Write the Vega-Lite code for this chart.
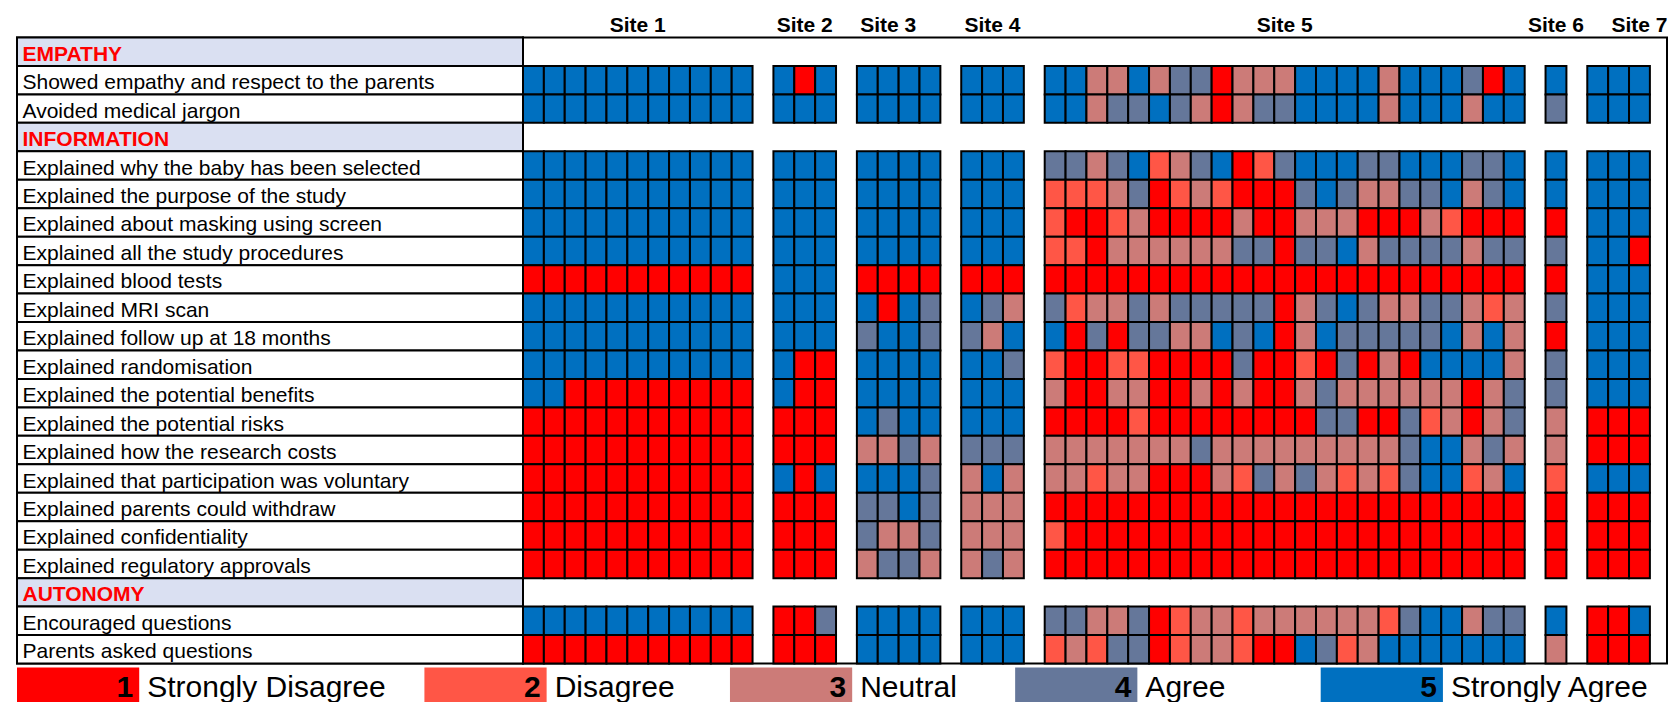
{
"$schema": "https://vega.github.io/schema/vega-lite/v6.json",
"autosize": {"type": "pad"},
"padding": {"left": 15, "top": 13.5, "right": 0, "bottom": 0},
"background": "white",
"bounds": "full",
"spacing": 2,
"config": {"font": "Liberation Sans", "view": {"stroke": "black", "strokeWidth": 2}},
"datasets": {
"items": [
{"item":"H1","label":"EMPATHY","kind":"section"},
{"item":"E1","label":"Showed empathy and respect to the parents","kind":"question"},
{"item":"E2","label":"Avoided medical jargon","kind":"question"},
{"item":"H2","label":"INFORMATION","kind":"section"},
{"item":"I1","label":"Explained why the baby has been selected","kind":"question"},
{"item":"I2","label":"Explained the purpose of the study","kind":"question"},
{"item":"I3","label":"Explained about masking using screen","kind":"question"},
{"item":"I4","label":"Explained all the study procedures","kind":"question"},
{"item":"I5","label":"Explained blood tests","kind":"question"},
{"item":"I6","label":"Explained MRI scan","kind":"question"},
{"item":"I7","label":"Explained follow up at 18 months","kind":"question"},
{"item":"I8","label":"Explained randomisation","kind":"question"},
{"item":"I9","label":"Explained the potential benefits","kind":"question"},
{"item":"I10","label":"Explained the potential risks","kind":"question"},
{"item":"I11","label":"Explained how the research costs","kind":"question"},
{"item":"I12","label":"Explained that participation was voluntary","kind":"question"},
{"item":"I13","label":"Explained parents could withdraw","kind":"question"},
{"item":"I14","label":"Explained confidentiality","kind":"question"},
{"item":"I15","label":"Explained regulatory approvals","kind":"question"},
{"item":"H3","label":"AUTONOMY","kind":"section"},
{"item":"A1","label":"Encouraged questions","kind":"question"},
{"item":"A2","label":"Parents asked questions","kind":"question"}
],
"legend": [
{"code":1,"label":"Strongly Disagree"},
{"code":2,"label":"Disagree"},
{"code":3,"label":"Neutral"},
{"code":4,"label":"Agree"},
{"code":5,"label":"Strongly Agree"}
],
"cells": [
{"col":"1-01","item":"E1","score":5},{"col":"1-02","item":"E1","score":5},{"col":"1-03","item":"E1","score":5},{"col":"1-04","item":"E1","score":5},{"col":"1-05","item":"E1","score":5},{"col":"1-06","item":"E1","score":5},{"col":"1-07","item":"E1","score":5},{"col":"1-08","item":"E1","score":5},{"col":"1-09","item":"E1","score":5},{"col":"1-10","item":"E1","score":5},{"col":"1-11","item":"E1","score":5},
{"col":"2-01","item":"E1","score":5},{"col":"2-02","item":"E1","score":1},{"col":"2-03","item":"E1","score":5},
{"col":"3-01","item":"E1","score":5},{"col":"3-02","item":"E1","score":5},{"col":"3-03","item":"E1","score":5},{"col":"3-04","item":"E1","score":5},
{"col":"4-01","item":"E1","score":5},{"col":"4-02","item":"E1","score":5},{"col":"4-03","item":"E1","score":5},
{"col":"5-01","item":"E1","score":5},{"col":"5-02","item":"E1","score":5},{"col":"5-03","item":"E1","score":3},{"col":"5-04","item":"E1","score":3},{"col":"5-05","item":"E1","score":5},{"col":"5-06","item":"E1","score":3},{"col":"5-07","item":"E1","score":4},{"col":"5-08","item":"E1","score":4},{"col":"5-09","item":"E1","score":1},{"col":"5-10","item":"E1","score":3},{"col":"5-11","item":"E1","score":3},{"col":"5-12","item":"E1","score":3},{"col":"5-13","item":"E1","score":5},{"col":"5-14","item":"E1","score":5},{"col":"5-15","item":"E1","score":5},{"col":"5-16","item":"E1","score":5},{"col":"5-17","item":"E1","score":3},{"col":"5-18","item":"E1","score":5},{"col":"5-19","item":"E1","score":5},{"col":"5-20","item":"E1","score":5},{"col":"5-21","item":"E1","score":4},{"col":"5-22","item":"E1","score":1},{"col":"5-23","item":"E1","score":5},
{"col":"6-01","item":"E1","score":5},{"col":"7-01","item":"E1","score":5},{"col":"7-02","item":"E1","score":5},{"col":"7-03","item":"E1","score":5},

{"col":"1-01","item":"E2","score":5},{"col":"1-02","item":"E2","score":5},{"col":"1-03","item":"E2","score":5},{"col":"1-04","item":"E2","score":5},{"col":"1-05","item":"E2","score":5},{"col":"1-06","item":"E2","score":5},{"col":"1-07","item":"E2","score":5},{"col":"1-08","item":"E2","score":5},{"col":"1-09","item":"E2","score":5},{"col":"1-10","item":"E2","score":5},{"col":"1-11","item":"E2","score":5},
{"col":"2-01","item":"E2","score":5},{"col":"2-02","item":"E2","score":5},{"col":"2-03","item":"E2","score":5},
{"col":"3-01","item":"E2","score":5},{"col":"3-02","item":"E2","score":5},{"col":"3-03","item":"E2","score":5},{"col":"3-04","item":"E2","score":5},
{"col":"4-01","item":"E2","score":5},{"col":"4-02","item":"E2","score":5},{"col":"4-03","item":"E2","score":5},
{"col":"5-01","item":"E2","score":5},{"col":"5-02","item":"E2","score":5},{"col":"5-03","item":"E2","score":3},{"col":"5-04","item":"E2","score":4},{"col":"5-05","item":"E2","score":4},{"col":"5-06","item":"E2","score":5},{"col":"5-07","item":"E2","score":4},{"col":"5-08","item":"E2","score":3},{"col":"5-09","item":"E2","score":1},{"col":"5-10","item":"E2","score":3},{"col":"5-11","item":"E2","score":4},{"col":"5-12","item":"E2","score":4},{"col":"5-13","item":"E2","score":5},{"col":"5-14","item":"E2","score":5},{"col":"5-15","item":"E2","score":5},{"col":"5-16","item":"E2","score":5},{"col":"5-17","item":"E2","score":3},{"col":"5-18","item":"E2","score":5},{"col":"5-19","item":"E2","score":5},{"col":"5-20","item":"E2","score":5},{"col":"5-21","item":"E2","score":3},{"col":"5-22","item":"E2","score":5},{"col":"5-23","item":"E2","score":5},
{"col":"6-01","item":"E2","score":4},{"col":"7-01","item":"E2","score":5},{"col":"7-02","item":"E2","score":5},{"col":"7-03","item":"E2","score":5},

{"col":"1-01","item":"I1","score":5},{"col":"1-02","item":"I1","score":5},{"col":"1-03","item":"I1","score":5},{"col":"1-04","item":"I1","score":5},{"col":"1-05","item":"I1","score":5},{"col":"1-06","item":"I1","score":5},{"col":"1-07","item":"I1","score":5},{"col":"1-08","item":"I1","score":5},{"col":"1-09","item":"I1","score":5},{"col":"1-10","item":"I1","score":5},{"col":"1-11","item":"I1","score":5},
{"col":"2-01","item":"I1","score":5},{"col":"2-02","item":"I1","score":5},{"col":"2-03","item":"I1","score":5},
{"col":"3-01","item":"I1","score":5},{"col":"3-02","item":"I1","score":5},{"col":"3-03","item":"I1","score":5},{"col":"3-04","item":"I1","score":5},
{"col":"4-01","item":"I1","score":5},{"col":"4-02","item":"I1","score":5},{"col":"4-03","item":"I1","score":5},
{"col":"5-01","item":"I1","score":4},{"col":"5-02","item":"I1","score":4},{"col":"5-03","item":"I1","score":3},{"col":"5-04","item":"I1","score":4},{"col":"5-05","item":"I1","score":5},{"col":"5-06","item":"I1","score":2},{"col":"5-07","item":"I1","score":3},{"col":"5-08","item":"I1","score":4},{"col":"5-09","item":"I1","score":5},{"col":"5-10","item":"I1","score":1},{"col":"5-11","item":"I1","score":2},{"col":"5-12","item":"I1","score":4},{"col":"5-13","item":"I1","score":5},{"col":"5-14","item":"I1","score":5},{"col":"5-15","item":"I1","score":5},{"col":"5-16","item":"I1","score":4},{"col":"5-17","item":"I1","score":4},{"col":"5-18","item":"I1","score":5},{"col":"5-19","item":"I1","score":5},{"col":"5-20","item":"I1","score":5},{"col":"5-21","item":"I1","score":4},{"col":"5-22","item":"I1","score":4},{"col":"5-23","item":"I1","score":5},
{"col":"6-01","item":"I1","score":5},{"col":"7-01","item":"I1","score":5},{"col":"7-02","item":"I1","score":5},{"col":"7-03","item":"I1","score":5},

{"col":"1-01","item":"I2","score":5},{"col":"1-02","item":"I2","score":5},{"col":"1-03","item":"I2","score":5},{"col":"1-04","item":"I2","score":5},{"col":"1-05","item":"I2","score":5},{"col":"1-06","item":"I2","score":5},{"col":"1-07","item":"I2","score":5},{"col":"1-08","item":"I2","score":5},{"col":"1-09","item":"I2","score":5},{"col":"1-10","item":"I2","score":5},{"col":"1-11","item":"I2","score":5},
{"col":"2-01","item":"I2","score":5},{"col":"2-02","item":"I2","score":5},{"col":"2-03","item":"I2","score":5},
{"col":"3-01","item":"I2","score":5},{"col":"3-02","item":"I2","score":5},{"col":"3-03","item":"I2","score":5},{"col":"3-04","item":"I2","score":5},
{"col":"4-01","item":"I2","score":5},{"col":"4-02","item":"I2","score":5},{"col":"4-03","item":"I2","score":5},
{"col":"5-01","item":"I2","score":2},{"col":"5-02","item":"I2","score":2},{"col":"5-03","item":"I2","score":2},{"col":"5-04","item":"I2","score":3},{"col":"5-05","item":"I2","score":4},{"col":"5-06","item":"I2","score":1},{"col":"5-07","item":"I2","score":2},{"col":"5-08","item":"I2","score":3},{"col":"5-09","item":"I2","score":2},{"col":"5-10","item":"I2","score":1},{"col":"5-11","item":"I2","score":1},{"col":"5-12","item":"I2","score":1},{"col":"5-13","item":"I2","score":4},{"col":"5-14","item":"I2","score":5},{"col":"5-15","item":"I2","score":4},{"col":"5-16","item":"I2","score":3},{"col":"5-17","item":"I2","score":3},{"col":"5-18","item":"I2","score":4},{"col":"5-19","item":"I2","score":4},{"col":"5-20","item":"I2","score":5},{"col":"5-21","item":"I2","score":3},{"col":"5-22","item":"I2","score":4},{"col":"5-23","item":"I2","score":5},
{"col":"6-01","item":"I2","score":5},{"col":"7-01","item":"I2","score":5},{"col":"7-02","item":"I2","score":5},{"col":"7-03","item":"I2","score":5},

{"col":"1-01","item":"I3","score":5},{"col":"1-02","item":"I3","score":5},{"col":"1-03","item":"I3","score":5},{"col":"1-04","item":"I3","score":5},{"col":"1-05","item":"I3","score":5},{"col":"1-06","item":"I3","score":5},{"col":"1-07","item":"I3","score":5},{"col":"1-08","item":"I3","score":5},{"col":"1-09","item":"I3","score":5},{"col":"1-10","item":"I3","score":5},{"col":"1-11","item":"I3","score":5},
{"col":"2-01","item":"I3","score":5},{"col":"2-02","item":"I3","score":5},{"col":"2-03","item":"I3","score":5},
{"col":"3-01","item":"I3","score":5},{"col":"3-02","item":"I3","score":5},{"col":"3-03","item":"I3","score":5},{"col":"3-04","item":"I3","score":5},
{"col":"4-01","item":"I3","score":5},{"col":"4-02","item":"I3","score":5},{"col":"4-03","item":"I3","score":5},
{"col":"5-01","item":"I3","score":2},{"col":"5-02","item":"I3","score":1},{"col":"5-03","item":"I3","score":1},{"col":"5-04","item":"I3","score":2},{"col":"5-05","item":"I3","score":3},{"col":"5-06","item":"I3","score":1},{"col":"5-07","item":"I3","score":1},{"col":"5-08","item":"I3","score":1},{"col":"5-09","item":"I3","score":1},{"col":"5-10","item":"I3","score":3},{"col":"5-11","item":"I3","score":1},{"col":"5-12","item":"I3","score":1},{"col":"5-13","item":"I3","score":3},{"col":"5-14","item":"I3","score":3},{"col":"5-15","item":"I3","score":3},{"col":"5-16","item":"I3","score":1},{"col":"5-17","item":"I3","score":1},{"col":"5-18","item":"I3","score":1},{"col":"5-19","item":"I3","score":3},{"col":"5-20","item":"I3","score":2},{"col":"5-21","item":"I3","score":1},{"col":"5-22","item":"I3","score":1},{"col":"5-23","item":"I3","score":1},
{"col":"6-01","item":"I3","score":1},{"col":"7-01","item":"I3","score":5},{"col":"7-02","item":"I3","score":5},{"col":"7-03","item":"I3","score":5},

{"col":"1-01","item":"I4","score":5},{"col":"1-02","item":"I4","score":5},{"col":"1-03","item":"I4","score":5},{"col":"1-04","item":"I4","score":5},{"col":"1-05","item":"I4","score":5},{"col":"1-06","item":"I4","score":5},{"col":"1-07","item":"I4","score":5},{"col":"1-08","item":"I4","score":5},{"col":"1-09","item":"I4","score":5},{"col":"1-10","item":"I4","score":5},{"col":"1-11","item":"I4","score":5},
{"col":"2-01","item":"I4","score":5},{"col":"2-02","item":"I4","score":5},{"col":"2-03","item":"I4","score":5},
{"col":"3-01","item":"I4","score":5},{"col":"3-02","item":"I4","score":5},{"col":"3-03","item":"I4","score":5},{"col":"3-04","item":"I4","score":5},
{"col":"4-01","item":"I4","score":5},{"col":"4-02","item":"I4","score":5},{"col":"4-03","item":"I4","score":5},
{"col":"5-01","item":"I4","score":2},{"col":"5-02","item":"I4","score":2},{"col":"5-03","item":"I4","score":1},{"col":"5-04","item":"I4","score":3},{"col":"5-05","item":"I4","score":3},{"col":"5-06","item":"I4","score":3},{"col":"5-07","item":"I4","score":3},{"col":"5-08","item":"I4","score":3},{"col":"5-09","item":"I4","score":3},{"col":"5-10","item":"I4","score":4},{"col":"5-11","item":"I4","score":4},{"col":"5-12","item":"I4","score":1},{"col":"5-13","item":"I4","score":4},{"col":"5-14","item":"I4","score":4},{"col":"5-15","item":"I4","score":5},{"col":"5-16","item":"I4","score":3},{"col":"5-17","item":"I4","score":4},{"col":"5-18","item":"I4","score":4},{"col":"5-19","item":"I4","score":4},{"col":"5-20","item":"I4","score":4},{"col":"5-21","item":"I4","score":3},{"col":"5-22","item":"I4","score":4},{"col":"5-23","item":"I4","score":4},
{"col":"6-01","item":"I4","score":4},{"col":"7-01","item":"I4","score":5},{"col":"7-02","item":"I4","score":5},{"col":"7-03","item":"I4","score":1},

{"col":"1-01","item":"I5","score":1},{"col":"1-02","item":"I5","score":1},{"col":"1-03","item":"I5","score":1},{"col":"1-04","item":"I5","score":1},{"col":"1-05","item":"I5","score":1},{"col":"1-06","item":"I5","score":1},{"col":"1-07","item":"I5","score":1},{"col":"1-08","item":"I5","score":1},{"col":"1-09","item":"I5","score":1},{"col":"1-10","item":"I5","score":1},{"col":"1-11","item":"I5","score":1},
{"col":"2-01","item":"I5","score":5},{"col":"2-02","item":"I5","score":5},{"col":"2-03","item":"I5","score":5},
{"col":"3-01","item":"I5","score":1},{"col":"3-02","item":"I5","score":1},{"col":"3-03","item":"I5","score":1},{"col":"3-04","item":"I5","score":1},
{"col":"4-01","item":"I5","score":1},{"col":"4-02","item":"I5","score":1},{"col":"4-03","item":"I5","score":1},
{"col":"5-01","item":"I5","score":1},{"col":"5-02","item":"I5","score":1},{"col":"5-03","item":"I5","score":1},{"col":"5-04","item":"I5","score":1},{"col":"5-05","item":"I5","score":1},{"col":"5-06","item":"I5","score":1},{"col":"5-07","item":"I5","score":1},{"col":"5-08","item":"I5","score":1},{"col":"5-09","item":"I5","score":1},{"col":"5-10","item":"I5","score":1},{"col":"5-11","item":"I5","score":1},{"col":"5-12","item":"I5","score":1},{"col":"5-13","item":"I5","score":1},{"col":"5-14","item":"I5","score":1},{"col":"5-15","item":"I5","score":1},{"col":"5-16","item":"I5","score":1},{"col":"5-17","item":"I5","score":1},{"col":"5-18","item":"I5","score":1},{"col":"5-19","item":"I5","score":1},{"col":"5-20","item":"I5","score":1},{"col":"5-21","item":"I5","score":1},{"col":"5-22","item":"I5","score":1},{"col":"5-23","item":"I5","score":1},
{"col":"6-01","item":"I5","score":1},{"col":"7-01","item":"I5","score":5},{"col":"7-02","item":"I5","score":5},{"col":"7-03","item":"I5","score":5},

{"col":"1-01","item":"I6","score":5},{"col":"1-02","item":"I6","score":5},{"col":"1-03","item":"I6","score":5},{"col":"1-04","item":"I6","score":5},{"col":"1-05","item":"I6","score":5},{"col":"1-06","item":"I6","score":5},{"col":"1-07","item":"I6","score":5},{"col":"1-08","item":"I6","score":5},{"col":"1-09","item":"I6","score":5},{"col":"1-10","item":"I6","score":5},{"col":"1-11","item":"I6","score":5},
{"col":"2-01","item":"I6","score":5},{"col":"2-02","item":"I6","score":5},{"col":"2-03","item":"I6","score":5},
{"col":"3-01","item":"I6","score":5},{"col":"3-02","item":"I6","score":1},{"col":"3-03","item":"I6","score":5},{"col":"3-04","item":"I6","score":4},
{"col":"4-01","item":"I6","score":5},{"col":"4-02","item":"I6","score":4},{"col":"4-03","item":"I6","score":3},
{"col":"5-01","item":"I6","score":4},{"col":"5-02","item":"I6","score":2},{"col":"5-03","item":"I6","score":3},{"col":"5-04","item":"I6","score":3},{"col":"5-05","item":"I6","score":4},{"col":"5-06","item":"I6","score":3},{"col":"5-07","item":"I6","score":4},{"col":"5-08","item":"I6","score":4},{"col":"5-09","item":"I6","score":4},{"col":"5-10","item":"I6","score":4},{"col":"5-11","item":"I6","score":4},{"col":"5-12","item":"I6","score":1},{"col":"5-13","item":"I6","score":3},{"col":"5-14","item":"I6","score":4},{"col":"5-15","item":"I6","score":5},{"col":"5-16","item":"I6","score":4},{"col":"5-17","item":"I6","score":3},{"col":"5-18","item":"I6","score":3},{"col":"5-19","item":"I6","score":4},{"col":"5-20","item":"I6","score":4},{"col":"5-21","item":"I6","score":3},{"col":"5-22","item":"I6","score":2},{"col":"5-23","item":"I6","score":3},
{"col":"6-01","item":"I6","score":4},{"col":"7-01","item":"I6","score":5},{"col":"7-02","item":"I6","score":5},{"col":"7-03","item":"I6","score":5},

{"col":"1-01","item":"I7","score":5},{"col":"1-02","item":"I7","score":5},{"col":"1-03","item":"I7","score":5},{"col":"1-04","item":"I7","score":5},{"col":"1-05","item":"I7","score":5},{"col":"1-06","item":"I7","score":5},{"col":"1-07","item":"I7","score":5},{"col":"1-08","item":"I7","score":5},{"col":"1-09","item":"I7","score":5},{"col":"1-10","item":"I7","score":5},{"col":"1-11","item":"I7","score":5},
{"col":"2-01","item":"I7","score":5},{"col":"2-02","item":"I7","score":5},{"col":"2-03","item":"I7","score":5},
{"col":"3-01","item":"I7","score":4},{"col":"3-02","item":"I7","score":5},{"col":"3-03","item":"I7","score":5},{"col":"3-04","item":"I7","score":4},
{"col":"4-01","item":"I7","score":4},{"col":"4-02","item":"I7","score":3},{"col":"4-03","item":"I7","score":5},
{"col":"5-01","item":"I7","score":5},{"col":"5-02","item":"I7","score":1},{"col":"5-03","item":"I7","score":4},{"col":"5-04","item":"I7","score":1},{"col":"5-05","item":"I7","score":4},{"col":"5-06","item":"I7","score":4},{"col":"5-07","item":"I7","score":3},{"col":"5-08","item":"I7","score":3},{"col":"5-09","item":"I7","score":5},{"col":"5-10","item":"I7","score":4},{"col":"5-11","item":"I7","score":5},{"col":"5-12","item":"I7","score":1},{"col":"5-13","item":"I7","score":3},{"col":"5-14","item":"I7","score":5},{"col":"5-15","item":"I7","score":4},{"col":"5-16","item":"I7","score":4},{"col":"5-17","item":"I7","score":4},{"col":"5-18","item":"I7","score":4},{"col":"5-19","item":"I7","score":4},{"col":"5-20","item":"I7","score":5},{"col":"5-21","item":"I7","score":3},{"col":"5-22","item":"I7","score":5},{"col":"5-23","item":"I7","score":3},
{"col":"6-01","item":"I7","score":1},{"col":"7-01","item":"I7","score":5},{"col":"7-02","item":"I7","score":5},{"col":"7-03","item":"I7","score":5},

{"col":"1-01","item":"I8","score":5},{"col":"1-02","item":"I8","score":5},{"col":"1-03","item":"I8","score":5},{"col":"1-04","item":"I8","score":5},{"col":"1-05","item":"I8","score":5},{"col":"1-06","item":"I8","score":5},{"col":"1-07","item":"I8","score":5},{"col":"1-08","item":"I8","score":5},{"col":"1-09","item":"I8","score":5},{"col":"1-10","item":"I8","score":5},{"col":"1-11","item":"I8","score":5},
{"col":"2-01","item":"I8","score":5},{"col":"2-02","item":"I8","score":1},{"col":"2-03","item":"I8","score":1},
{"col":"3-01","item":"I8","score":5},{"col":"3-02","item":"I8","score":5},{"col":"3-03","item":"I8","score":5},{"col":"3-04","item":"I8","score":5},
{"col":"4-01","item":"I8","score":5},{"col":"4-02","item":"I8","score":5},{"col":"4-03","item":"I8","score":4},
{"col":"5-01","item":"I8","score":2},{"col":"5-02","item":"I8","score":1},{"col":"5-03","item":"I8","score":1},{"col":"5-04","item":"I8","score":2},{"col":"5-05","item":"I8","score":2},{"col":"5-06","item":"I8","score":1},{"col":"5-07","item":"I8","score":1},{"col":"5-08","item":"I8","score":1},{"col":"5-09","item":"I8","score":1},{"col":"5-10","item":"I8","score":4},{"col":"5-11","item":"I8","score":1},{"col":"5-12","item":"I8","score":1},{"col":"5-13","item":"I8","score":2},{"col":"5-14","item":"I8","score":1},{"col":"5-15","item":"I8","score":4},{"col":"5-16","item":"I8","score":1},{"col":"5-17","item":"I8","score":3},{"col":"5-18","item":"I8","score":1},{"col":"5-19","item":"I8","score":5},{"col":"5-20","item":"I8","score":5},{"col":"5-21","item":"I8","score":5},{"col":"5-22","item":"I8","score":5},{"col":"5-23","item":"I8","score":3},
{"col":"6-01","item":"I8","score":4},{"col":"7-01","item":"I8","score":5},{"col":"7-02","item":"I8","score":5},{"col":"7-03","item":"I8","score":5},

{"col":"1-01","item":"I9","score":5},{"col":"1-02","item":"I9","score":5},{"col":"1-03","item":"I9","score":1},{"col":"1-04","item":"I9","score":1},{"col":"1-05","item":"I9","score":1},{"col":"1-06","item":"I9","score":1},{"col":"1-07","item":"I9","score":1},{"col":"1-08","item":"I9","score":1},{"col":"1-09","item":"I9","score":1},{"col":"1-10","item":"I9","score":1},{"col":"1-11","item":"I9","score":1},
{"col":"2-01","item":"I9","score":5},{"col":"2-02","item":"I9","score":1},{"col":"2-03","item":"I9","score":1},
{"col":"3-01","item":"I9","score":5},{"col":"3-02","item":"I9","score":5},{"col":"3-03","item":"I9","score":5},{"col":"3-04","item":"I9","score":5},
{"col":"4-01","item":"I9","score":5},{"col":"4-02","item":"I9","score":5},{"col":"4-03","item":"I9","score":5},
{"col":"5-01","item":"I9","score":3},{"col":"5-02","item":"I9","score":1},{"col":"5-03","item":"I9","score":1},{"col":"5-04","item":"I9","score":3},{"col":"5-05","item":"I9","score":3},{"col":"5-06","item":"I9","score":1},{"col":"5-07","item":"I9","score":1},{"col":"5-08","item":"I9","score":3},{"col":"5-09","item":"I9","score":1},{"col":"5-10","item":"I9","score":3},{"col":"5-11","item":"I9","score":1},{"col":"5-12","item":"I9","score":1},{"col":"5-13","item":"I9","score":3},{"col":"5-14","item":"I9","score":4},{"col":"5-15","item":"I9","score":3},{"col":"5-16","item":"I9","score":3},{"col":"5-17","item":"I9","score":3},{"col":"5-18","item":"I9","score":3},{"col":"5-19","item":"I9","score":3},{"col":"5-20","item":"I9","score":3},{"col":"5-21","item":"I9","score":1},{"col":"5-22","item":"I9","score":3},{"col":"5-23","item":"I9","score":4},
{"col":"6-01","item":"I9","score":4},{"col":"7-01","item":"I9","score":5},{"col":"7-02","item":"I9","score":5},{"col":"7-03","item":"I9","score":5},

{"col":"1-01","item":"I10","score":1},{"col":"1-02","item":"I10","score":1},{"col":"1-03","item":"I10","score":1},{"col":"1-04","item":"I10","score":1},{"col":"1-05","item":"I10","score":1},{"col":"1-06","item":"I10","score":1},{"col":"1-07","item":"I10","score":1},{"col":"1-08","item":"I10","score":1},{"col":"1-09","item":"I10","score":1},{"col":"1-10","item":"I10","score":1},{"col":"1-11","item":"I10","score":1},
{"col":"2-01","item":"I10","score":1},{"col":"2-02","item":"I10","score":1},{"col":"2-03","item":"I10","score":1},
{"col":"3-01","item":"I10","score":5},{"col":"3-02","item":"I10","score":4},{"col":"3-03","item":"I10","score":5},{"col":"3-04","item":"I10","score":5},
{"col":"4-01","item":"I10","score":5},{"col":"4-02","item":"I10","score":5},{"col":"4-03","item":"I10","score":5},
{"col":"5-01","item":"I10","score":1},{"col":"5-02","item":"I10","score":1},{"col":"5-03","item":"I10","score":1},{"col":"5-04","item":"I10","score":1},{"col":"5-05","item":"I10","score":2},{"col":"5-06","item":"I10","score":1},{"col":"5-07","item":"I10","score":1},{"col":"5-08","item":"I10","score":1},{"col":"5-09","item":"I10","score":1},{"col":"5-10","item":"I10","score":1},{"col":"5-11","item":"I10","score":1},{"col":"5-12","item":"I10","score":1},{"col":"5-13","item":"I10","score":1},{"col":"5-14","item":"I10","score":4},{"col":"5-15","item":"I10","score":4},{"col":"5-16","item":"I10","score":1},{"col":"5-17","item":"I10","score":1},{"col":"5-18","item":"I10","score":4},{"col":"5-19","item":"I10","score":2},{"col":"5-20","item":"I10","score":3},{"col":"5-21","item":"I10","score":1},{"col":"5-22","item":"I10","score":3},{"col":"5-23","item":"I10","score":4},
{"col":"6-01","item":"I10","score":3},{"col":"7-01","item":"I10","score":1},{"col":"7-02","item":"I10","score":1},{"col":"7-03","item":"I10","score":1},

{"col":"1-01","item":"I11","score":1},{"col":"1-02","item":"I11","score":1},{"col":"1-03","item":"I11","score":1},{"col":"1-04","item":"I11","score":1},{"col":"1-05","item":"I11","score":1},{"col":"1-06","item":"I11","score":1},{"col":"1-07","item":"I11","score":1},{"col":"1-08","item":"I11","score":1},{"col":"1-09","item":"I11","score":1},{"col":"1-10","item":"I11","score":1},{"col":"1-11","item":"I11","score":1},
{"col":"2-01","item":"I11","score":1},{"col":"2-02","item":"I11","score":1},{"col":"2-03","item":"I11","score":1},
{"col":"3-01","item":"I11","score":3},{"col":"3-02","item":"I11","score":3},{"col":"3-03","item":"I11","score":4},{"col":"3-04","item":"I11","score":3},
{"col":"4-01","item":"I11","score":4},{"col":"4-02","item":"I11","score":4},{"col":"4-03","item":"I11","score":4},
{"col":"5-01","item":"I11","score":3},{"col":"5-02","item":"I11","score":3},{"col":"5-03","item":"I11","score":3},{"col":"5-04","item":"I11","score":3},{"col":"5-05","item":"I11","score":3},{"col":"5-06","item":"I11","score":3},{"col":"5-07","item":"I11","score":3},{"col":"5-08","item":"I11","score":4},{"col":"5-09","item":"I11","score":3},{"col":"5-10","item":"I11","score":3},{"col":"5-11","item":"I11","score":3},{"col":"5-12","item":"I11","score":3},{"col":"5-13","item":"I11","score":3},{"col":"5-14","item":"I11","score":3},{"col":"5-15","item":"I11","score":3},{"col":"5-16","item":"I11","score":3},{"col":"5-17","item":"I11","score":3},{"col":"5-18","item":"I11","score":4},{"col":"5-19","item":"I11","score":5},{"col":"5-20","item":"I11","score":5},{"col":"5-21","item":"I11","score":3},{"col":"5-22","item":"I11","score":4},{"col":"5-23","item":"I11","score":3},
{"col":"6-01","item":"I11","score":3},{"col":"7-01","item":"I11","score":1},{"col":"7-02","item":"I11","score":1},{"col":"7-03","item":"I11","score":1},

{"col":"1-01","item":"I12","score":1},{"col":"1-02","item":"I12","score":1},{"col":"1-03","item":"I12","score":1},{"col":"1-04","item":"I12","score":1},{"col":"1-05","item":"I12","score":1},{"col":"1-06","item":"I12","score":1},{"col":"1-07","item":"I12","score":1},{"col":"1-08","item":"I12","score":1},{"col":"1-09","item":"I12","score":1},{"col":"1-10","item":"I12","score":1},{"col":"1-11","item":"I12","score":1},
{"col":"2-01","item":"I12","score":5},{"col":"2-02","item":"I12","score":1},{"col":"2-03","item":"I12","score":5},
{"col":"3-01","item":"I12","score":5},{"col":"3-02","item":"I12","score":5},{"col":"3-03","item":"I12","score":5},{"col":"3-04","item":"I12","score":4},
{"col":"4-01","item":"I12","score":3},{"col":"4-02","item":"I12","score":5},{"col":"4-03","item":"I12","score":3},
{"col":"5-01","item":"I12","score":3},{"col":"5-02","item":"I12","score":3},{"col":"5-03","item":"I12","score":2},{"col":"5-04","item":"I12","score":3},{"col":"5-05","item":"I12","score":3},{"col":"5-06","item":"I12","score":1},{"col":"5-07","item":"I12","score":1},{"col":"5-08","item":"I12","score":1},{"col":"5-09","item":"I12","score":3},{"col":"5-10","item":"I12","score":2},{"col":"5-11","item":"I12","score":4},{"col":"5-12","item":"I12","score":3},{"col":"5-13","item":"I12","score":4},{"col":"5-14","item":"I12","score":3},{"col":"5-15","item":"I12","score":2},{"col":"5-16","item":"I12","score":3},{"col":"5-17","item":"I12","score":2},{"col":"5-18","item":"I12","score":4},{"col":"5-19","item":"I12","score":5},{"col":"5-20","item":"I12","score":5},{"col":"5-21","item":"I12","score":2},{"col":"5-22","item":"I12","score":3},{"col":"5-23","item":"I12","score":5},
{"col":"6-01","item":"I12","score":2},{"col":"7-01","item":"I12","score":5},{"col":"7-02","item":"I12","score":5},{"col":"7-03","item":"I12","score":5},

{"col":"1-01","item":"I13","score":1},{"col":"1-02","item":"I13","score":1},{"col":"1-03","item":"I13","score":1},{"col":"1-04","item":"I13","score":1},{"col":"1-05","item":"I13","score":1},{"col":"1-06","item":"I13","score":1},{"col":"1-07","item":"I13","score":1},{"col":"1-08","item":"I13","score":1},{"col":"1-09","item":"I13","score":1},{"col":"1-10","item":"I13","score":1},{"col":"1-11","item":"I13","score":1},
{"col":"2-01","item":"I13","score":1},{"col":"2-02","item":"I13","score":1},{"col":"2-03","item":"I13","score":1},
{"col":"3-01","item":"I13","score":4},{"col":"3-02","item":"I13","score":4},{"col":"3-03","item":"I13","score":5},{"col":"3-04","item":"I13","score":4},
{"col":"4-01","item":"I13","score":3},{"col":"4-02","item":"I13","score":3},{"col":"4-03","item":"I13","score":3},
{"col":"5-01","item":"I13","score":1},{"col":"5-02","item":"I13","score":1},{"col":"5-03","item":"I13","score":1},{"col":"5-04","item":"I13","score":1},{"col":"5-05","item":"I13","score":1},{"col":"5-06","item":"I13","score":1},{"col":"5-07","item":"I13","score":1},{"col":"5-08","item":"I13","score":1},{"col":"5-09","item":"I13","score":1},{"col":"5-10","item":"I13","score":1},{"col":"5-11","item":"I13","score":1},{"col":"5-12","item":"I13","score":1},{"col":"5-13","item":"I13","score":1},{"col":"5-14","item":"I13","score":1},{"col":"5-15","item":"I13","score":1},{"col":"5-16","item":"I13","score":1},{"col":"5-17","item":"I13","score":1},{"col":"5-18","item":"I13","score":1},{"col":"5-19","item":"I13","score":1},{"col":"5-20","item":"I13","score":1},{"col":"5-21","item":"I13","score":1},{"col":"5-22","item":"I13","score":1},{"col":"5-23","item":"I13","score":1},
{"col":"6-01","item":"I13","score":1},{"col":"7-01","item":"I13","score":1},{"col":"7-02","item":"I13","score":1},{"col":"7-03","item":"I13","score":1},

{"col":"1-01","item":"I14","score":1},{"col":"1-02","item":"I14","score":1},{"col":"1-03","item":"I14","score":1},{"col":"1-04","item":"I14","score":1},{"col":"1-05","item":"I14","score":1},{"col":"1-06","item":"I14","score":1},{"col":"1-07","item":"I14","score":1},{"col":"1-08","item":"I14","score":1},{"col":"1-09","item":"I14","score":1},{"col":"1-10","item":"I14","score":1},{"col":"1-11","item":"I14","score":1},
{"col":"2-01","item":"I14","score":1},{"col":"2-02","item":"I14","score":1},{"col":"2-03","item":"I14","score":1},
{"col":"3-01","item":"I14","score":4},{"col":"3-02","item":"I14","score":3},{"col":"3-03","item":"I14","score":3},{"col":"3-04","item":"I14","score":4},
{"col":"4-01","item":"I14","score":3},{"col":"4-02","item":"I14","score":3},{"col":"4-03","item":"I14","score":3},
{"col":"5-01","item":"I14","score":2},{"col":"5-02","item":"I14","score":1},{"col":"5-03","item":"I14","score":1},{"col":"5-04","item":"I14","score":1},{"col":"5-05","item":"I14","score":1},{"col":"5-06","item":"I14","score":1},{"col":"5-07","item":"I14","score":1},{"col":"5-08","item":"I14","score":1},{"col":"5-09","item":"I14","score":1},{"col":"5-10","item":"I14","score":1},{"col":"5-11","item":"I14","score":1},{"col":"5-12","item":"I14","score":1},{"col":"5-13","item":"I14","score":1},{"col":"5-14","item":"I14","score":1},{"col":"5-15","item":"I14","score":1},{"col":"5-16","item":"I14","score":1},{"col":"5-17","item":"I14","score":1},{"col":"5-18","item":"I14","score":1},{"col":"5-19","item":"I14","score":1},{"col":"5-20","item":"I14","score":1},{"col":"5-21","item":"I14","score":1},{"col":"5-22","item":"I14","score":1},{"col":"5-23","item":"I14","score":1},
{"col":"6-01","item":"I14","score":1},{"col":"7-01","item":"I14","score":1},{"col":"7-02","item":"I14","score":1},{"col":"7-03","item":"I14","score":1},

{"col":"1-01","item":"I15","score":1},{"col":"1-02","item":"I15","score":1},{"col":"1-03","item":"I15","score":1},{"col":"1-04","item":"I15","score":1},{"col":"1-05","item":"I15","score":1},{"col":"1-06","item":"I15","score":1},{"col":"1-07","item":"I15","score":1},{"col":"1-08","item":"I15","score":1},{"col":"1-09","item":"I15","score":1},{"col":"1-10","item":"I15","score":1},{"col":"1-11","item":"I15","score":1},
{"col":"2-01","item":"I15","score":1},{"col":"2-02","item":"I15","score":1},{"col":"2-03","item":"I15","score":1},
{"col":"3-01","item":"I15","score":3},{"col":"3-02","item":"I15","score":4},{"col":"3-03","item":"I15","score":4},{"col":"3-04","item":"I15","score":3},
{"col":"4-01","item":"I15","score":3},{"col":"4-02","item":"I15","score":4},{"col":"4-03","item":"I15","score":3},
{"col":"5-01","item":"I15","score":1},{"col":"5-02","item":"I15","score":1},{"col":"5-03","item":"I15","score":1},{"col":"5-04","item":"I15","score":1},{"col":"5-05","item":"I15","score":1},{"col":"5-06","item":"I15","score":1},{"col":"5-07","item":"I15","score":1},{"col":"5-08","item":"I15","score":1},{"col":"5-09","item":"I15","score":1},{"col":"5-10","item":"I15","score":1},{"col":"5-11","item":"I15","score":1},{"col":"5-12","item":"I15","score":1},{"col":"5-13","item":"I15","score":1},{"col":"5-14","item":"I15","score":1},{"col":"5-15","item":"I15","score":1},{"col":"5-16","item":"I15","score":1},{"col":"5-17","item":"I15","score":1},{"col":"5-18","item":"I15","score":1},{"col":"5-19","item":"I15","score":1},{"col":"5-20","item":"I15","score":1},{"col":"5-21","item":"I15","score":1},{"col":"5-22","item":"I15","score":1},{"col":"5-23","item":"I15","score":1},
{"col":"6-01","item":"I15","score":1},{"col":"7-01","item":"I15","score":1},{"col":"7-02","item":"I15","score":1},{"col":"7-03","item":"I15","score":1},

{"col":"1-01","item":"A1","score":5},{"col":"1-02","item":"A1","score":5},{"col":"1-03","item":"A1","score":5},{"col":"1-04","item":"A1","score":5},{"col":"1-05","item":"A1","score":5},{"col":"1-06","item":"A1","score":5},{"col":"1-07","item":"A1","score":5},{"col":"1-08","item":"A1","score":5},{"col":"1-09","item":"A1","score":5},{"col":"1-10","item":"A1","score":5},{"col":"1-11","item":"A1","score":5},
{"col":"2-01","item":"A1","score":1},{"col":"2-02","item":"A1","score":1},{"col":"2-03","item":"A1","score":4},
{"col":"3-01","item":"A1","score":5},{"col":"3-02","item":"A1","score":5},{"col":"3-03","item":"A1","score":5},{"col":"3-04","item":"A1","score":5},
{"col":"4-01","item":"A1","score":5},{"col":"4-02","item":"A1","score":5},{"col":"4-03","item":"A1","score":5},
{"col":"5-01","item":"A1","score":4},{"col":"5-02","item":"A1","score":4},{"col":"5-03","item":"A1","score":3},{"col":"5-04","item":"A1","score":3},{"col":"5-05","item":"A1","score":4},{"col":"5-06","item":"A1","score":1},{"col":"5-07","item":"A1","score":2},{"col":"5-08","item":"A1","score":3},{"col":"5-09","item":"A1","score":3},{"col":"5-10","item":"A1","score":2},{"col":"5-11","item":"A1","score":3},{"col":"5-12","item":"A1","score":3},{"col":"5-13","item":"A1","score":3},{"col":"5-14","item":"A1","score":3},{"col":"5-15","item":"A1","score":3},{"col":"5-16","item":"A1","score":3},{"col":"5-17","item":"A1","score":2},{"col":"5-18","item":"A1","score":4},{"col":"5-19","item":"A1","score":5},{"col":"5-20","item":"A1","score":5},{"col":"5-21","item":"A1","score":3},{"col":"5-22","item":"A1","score":4},{"col":"5-23","item":"A1","score":4},
{"col":"6-01","item":"A1","score":5},{"col":"7-01","item":"A1","score":1},{"col":"7-02","item":"A1","score":1},{"col":"7-03","item":"A1","score":5},

{"col":"1-01","item":"A2","score":1},{"col":"1-02","item":"A2","score":1},{"col":"1-03","item":"A2","score":1},{"col":"1-04","item":"A2","score":1},{"col":"1-05","item":"A2","score":1},{"col":"1-06","item":"A2","score":1},{"col":"1-07","item":"A2","score":1},{"col":"1-08","item":"A2","score":1},{"col":"1-09","item":"A2","score":1},{"col":"1-10","item":"A2","score":1},{"col":"1-11","item":"A2","score":1},
{"col":"2-01","item":"A2","score":1},{"col":"2-02","item":"A2","score":1},{"col":"2-03","item":"A2","score":1},
{"col":"3-01","item":"A2","score":5},{"col":"3-02","item":"A2","score":5},{"col":"3-03","item":"A2","score":5},{"col":"3-04","item":"A2","score":5},
{"col":"4-01","item":"A2","score":5},{"col":"4-02","item":"A2","score":5},{"col":"4-03","item":"A2","score":5},
{"col":"5-01","item":"A2","score":2},{"col":"5-02","item":"A2","score":3},{"col":"5-03","item":"A2","score":2},{"col":"5-04","item":"A2","score":4},{"col":"5-05","item":"A2","score":4},{"col":"5-06","item":"A2","score":1},{"col":"5-07","item":"A2","score":2},{"col":"5-08","item":"A2","score":3},{"col":"5-09","item":"A2","score":3},{"col":"5-10","item":"A2","score":2},{"col":"5-11","item":"A2","score":1},{"col":"5-12","item":"A2","score":1},{"col":"5-13","item":"A2","score":5},{"col":"5-14","item":"A2","score":4},{"col":"5-15","item":"A2","score":2},{"col":"5-16","item":"A2","score":3},{"col":"5-17","item":"A2","score":5},{"col":"5-18","item":"A2","score":5},{"col":"5-19","item":"A2","score":5},{"col":"5-20","item":"A2","score":5},{"col":"5-21","item":"A2","score":5},{"col":"5-22","item":"A2","score":5},{"col":"5-23","item":"A2","score":5},
{"col":"6-01","item":"A2","score":3},{"col":"7-01","item":"A2","score":1},{"col":"7-02","item":"A2","score":1},{"col":"7-03","item":"A2","score":1}
]
},
"vconcat": [
{
"hconcat": [
{
"width": 506, "height": 626,
"data": {"name": "items"},
"mark": {"type": "rect", "stroke": "black", "strokeWidth": 2},
"encoding": {
"y": {"field": "label", "type": "nominal", "sort": null,
"scale": {"paddingInner": 0, "paddingOuter": 0},
"axis": {"orient": "left", "title": null, "domain": false, "ticks": false, "tickSize": 0, "grid": false,
"labelAlign": "left", "labelPadding": -5, "labelFontSize": 21, "labelLimit": 0, "labelOverlap": false,
"labelBaseline": "alphabetic", "labelOffset": 9, "zindex": 1,
"labelColor": {"condition": {"test": "datum.value === upper(datum.value)", "value": "#FF0000"}, "value": "black"},
"labelFontWeight": {"condition": {"test": "datum.value === upper(datum.value)", "value": "bold"}, "value": "normal"}}},
"fill": {"condition": {"test": "datum.kind === 'section'", "value": "#DAE0F2"}, "value": "white"}
}
},
{
"width": 1144, "height": 626,
"data": {"name": "cells"},
"mark": {"type": "rect", "stroke": "black", "strokeWidth": 2},
"encoding": {
"x": {"field": "col", "type": "nominal",
"scale": {"domain": ["1-01","1-02","1-03","1-04","1-05","1-06","1-07","1-08","1-09","1-10","1-11","g1","2-01","2-02","2-03","g2","3-01","3-02","3-03","3-04","g3","4-01","4-02","4-03","g4","5-01","5-02","5-03","5-04","5-05","5-06","5-07","5-08","5-09","5-10","5-11","5-12","5-13","5-14","5-15","5-16","5-17","5-18","5-19","5-20","5-21","5-22","5-23","g5","6-01","g6","7-01","7-02","7-03"],
"paddingInner": 0, "paddingOuter": 0.41, "align": 0},
"axis": {"orient": "top", "title": null, "domain": false, "ticks": false, "tickSize": 0, "grid": false,
"labelAngle": 0, "labelPadding": 6, "labelBaseline": "alphabetic", "labelFontSize": 21, "labelFontWeight": "bold",
"labelColor": "black", "labelOverlap": false, "labelLimit": 0, "labelBound": false, "labelFlush": false, "zindex": 1,
"labelExpr": "datum.value === '1-06' ? 'Site 1' : datum.value === '2-02' ? 'Site 2' : datum.value === '3-02' ? 'Site 3' : datum.value === '4-02' ? 'Site 4' : datum.value === '5-12' ? 'Site 5' : datum.value === '6-01' ? 'Site 6' : datum.value === '7-03' ? 'Site 7' : ''"}},
"y": {"field": "item", "type": "nominal",
"scale": {"domain": ["H1","E1","E2","H2","I1","I2","I3","I4","I5","I6","I7","I8","I9","I10","I11","I12","I13","I14","I15","H3","A1","A2"], "paddingInner": 0, "paddingOuter": 0},
"axis": null},
"color": {"field": "score", "type": "ordinal",
"scale": {"domain": [1,2,3,4,5], "range": ["#FF0000","#FF5646","#CC7B78","#65779A","#0070C0"]}, "legend": null}
}
}
],
"spacing": 0,
"bounds": "flush"
},
{
"width": 1650, "height": 37,
"view": {"stroke": null},
"data": {"name": "legend"},
"layer": [
{
"mark": {"type": "rect"},
"encoding": {
"x": {"field": "code", "type": "nominal", "bandPosition": 0,
"scale": {"domain": [1,"f1","f2","f3","f4","f5","Strongly Disagree","f7","f8","f9","f10","f11","f12","f13","f14","f15","f16","f17","f18","f19",2,"f21","f22","f23","f24","f25","Disagree","f27","f28","f29","f30","f31","f32","f33","f34",3,"f36","f37","f38","f39","f40","Neutral","f42","f43","f44","f45","f46","f47","f48",4,"f50","f51","f52","f53","f54","Agree","f56","f57","f58","f59","f60","f61","f62","f63",5,"f65","f66","f67","f68","f69","Strongly Agree","f71","f72","f73","f74","f75","f76","f77","f78","f79","f80"], "paddingInner": 0, "paddingOuter": 0},
"axis": null},
"x2": {"field": "label", "bandPosition": 0},
"color": {"field": "code", "type": "ordinal",
"scale": {"domain": [1,2,3,4,5], "range": ["#FF0000","#FF5646","#CC7B78","#65779A","#0070C0"]}, "legend": null}
}
},
{
"mark": {"type": "text", "align": "right", "dx": -6, "dy": 11, "baseline": "alphabetic", "fontSize": 30, "fontWeight": "bold", "color": "black"},
"encoding": {
"x": {"field": "label", "type": "nominal", "bandPosition": 0, "axis": null},
"text": {"field": "code", "type": "nominal"}
}
},
{
"mark": {"type": "text", "align": "left", "dx": 8, "dy": 11, "baseline": "alphabetic", "fontSize": 30, "color": "black"},
"encoding": {
"x": {"field": "label", "type": "nominal", "bandPosition": 0, "axis": null},
"text": {"field": "label", "type": "nominal"}
}
}
]
}
]
}
